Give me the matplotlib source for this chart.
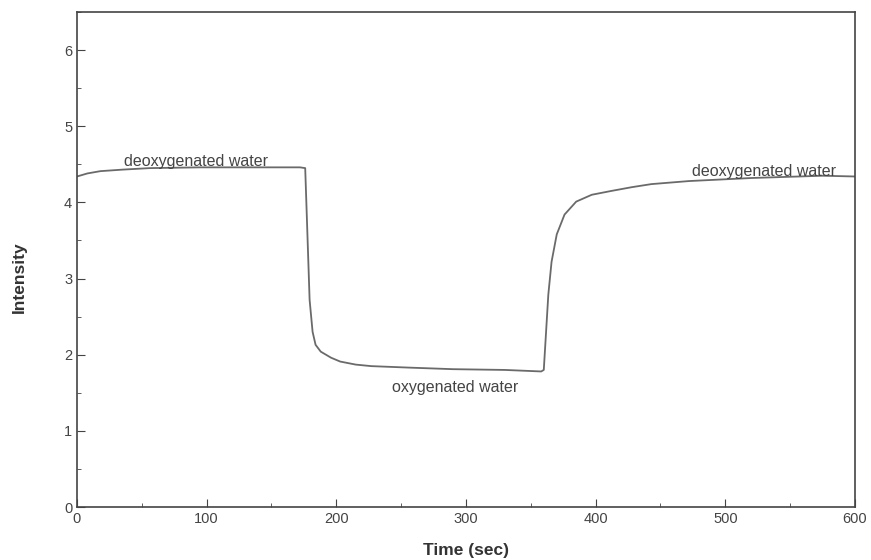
import matplotlib
matplotlib.use('Agg')
import matplotlib.pyplot as plt
from matplotlib.ticker import MultipleLocator

plt.rcParams['font.family'] = ['Liberation Sans', 'DejaVu Sans']

# Intensity trace (time in s)
time_s = [0, 8, 18, 35, 56, 95, 140, 172, 176, 179.4, 181.7, 184, 188, 196, 203,
          215, 227, 257, 290, 330, 358, 360, 363.5, 366, 370, 376, 385, 397,
          412, 428, 443, 472, 520, 575, 600]
intensity = [4.34, 4.38, 4.41, 4.43, 4.45, 4.46, 4.46, 4.46, 4.45, 2.72, 2.30,
             2.13, 2.04, 1.96, 1.91, 1.87, 1.85, 1.83, 1.81, 1.80, 1.78, 1.80,
             2.79, 3.22, 3.58, 3.84, 4.01, 4.10, 4.15, 4.20, 4.24, 4.28, 4.32,
             4.35, 4.34]

labels = ['deoxygenated water', 'oxygenated water', 'deoxygenated water']
label_x = [92, 291.5, 530]
label_y = [4.54, 1.57, 4.41]

fig = plt.figure(figsize=(8.71, 5.6), dpi=100)
ax = fig.add_axes([0.0884, 0.0946, 0.8932, 0.884])
ax.plot(time_s, intensity, color='#6a6a6a', lw=1.3)

for s, x, y in zip(labels, label_x, label_y):
    ax.text(x, y, s, ha='center', va='center', fontsize=11.5, color='#444444')

ax.set_xlim(0, 600)
ax.set_ylim(0, 6.5)
ax.xaxis.set_major_locator(MultipleLocator(100))
ax.xaxis.set_minor_locator(MultipleLocator(50))
ax.yaxis.set_major_locator(MultipleLocator(1))
ax.yaxis.set_minor_locator(MultipleLocator(0.5))
ax.tick_params(direction='in', which='both', labelsize=10.5, colors='#444444')
ax.tick_params(which='major', length=6)
ax.tick_params(which='minor', length=3)
for sp in ax.spines.values():
    sp.set_color('#444444')
    sp.set_linewidth(1.2)

ax.set_xlabel('Time (sec)', fontsize=12.5, fontweight='bold', color='#333333', labelpad=12)
ax.set_ylabel('Intensity', fontsize=12.5, fontweight='bold', color='#333333')
ax.yaxis.set_label_coords(-0.064, 0.465)

plt.savefig('out.png')
